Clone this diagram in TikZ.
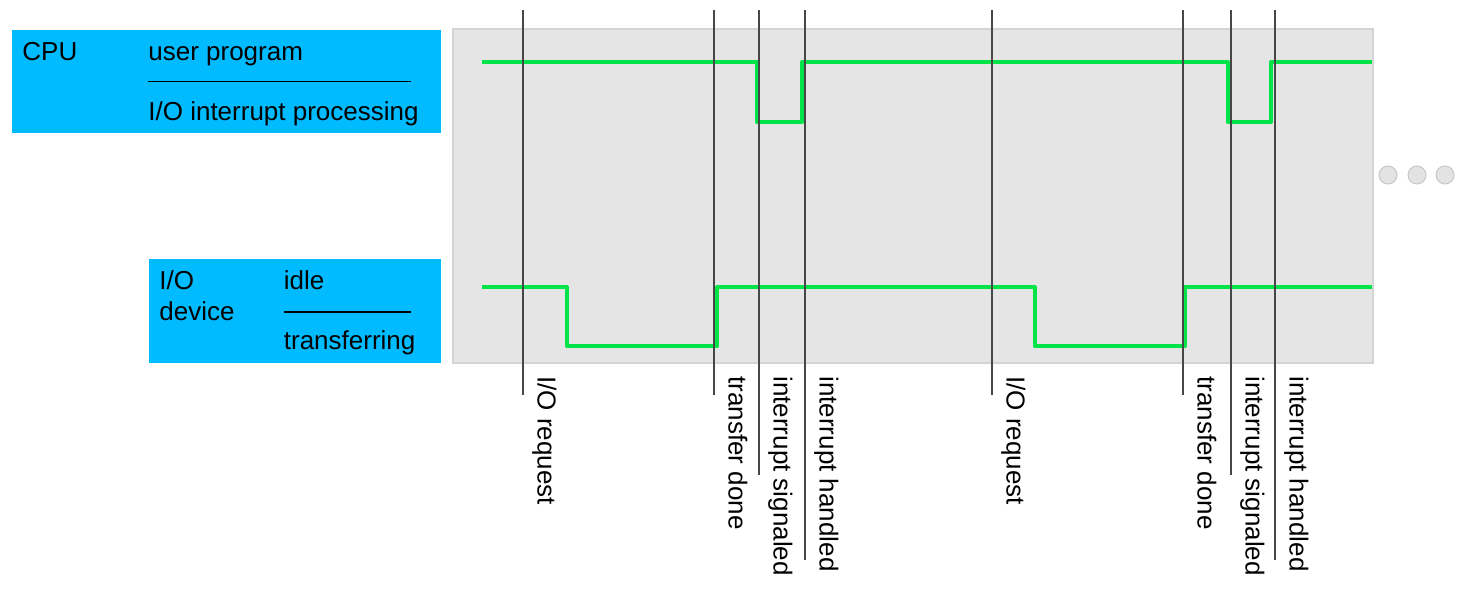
\documentclass[tikz,border=0pt]{standalone}
\usepackage{fontspec}
\setmainfont{Liberation Sans}
\definecolor{stateblue}{RGB}{0,187,255}
\definecolor{siggreen}{RGB}{0,228,72}
\definecolor{panelgray}{RGB}{229,229,229}
\begin{document}
\begin{tikzpicture}[x=0.5pt, y=-0.5pt,
    txt/.style={font=\fontsize{13}{15}\selectfont, inner sep=0, anchor=base west},
    event/.style={txt, rotate=-90},
    signal/.style={siggreen, line width=2pt, line join=round},
    marker/.style={draw=black!72, line width=0.8pt},
    rule/.style={draw=black, line width=0.6pt},
    dot/.style={circle, draw=black!22, fill=black!11, line width=0.5pt, minimum size=9pt, inner sep=0}
]
    \useasboundingbox (0,0) rectangle (1482,594);

    % State boxes
    \fill[stateblue] (12,30) rectangle (441,133);
    \fill[stateblue] (149,259) rectangle (441,363);
    \node[txt] (cpu) at (22,60) {CPU};
    \node[txt] (user) at (148,60) {user program};
    \node[txt] (intproc) at (148,120) {I/O interrupt processing};
    \draw[rule] (148,81.5) -- (411,81.5);
    \node[txt] (io) at (159,289) {I/O};
    \node[txt] (device) at (159,320) {device};
    \node[txt] (idle) at (283.5,289) {idle};
    \node[txt] (transfer) at (283.5,349) {transferring};
    \draw[rule] (284,312) -- (411,312);

    % Timeline panel
    \draw[fill=panelgray, draw=black!17, line width=0.8pt] (453,29) rectangle (1373,363);

    % Signals
    \draw[signal] (482,62) -| (757,122) -| (802,62) -| (1228,122) -| (1271,62) -- (1372,62);
    \draw[signal] (482,287) -| (567,346) -| (717,287) -| (1035,346) -| (1185,287) -- (1372,287);

    % Events
    \foreach \x/\y/\name [count=\i] in {523/395/{I/O request}, 714/395/{transfer done},
        759/475/{interrupt signaled}, 805/560/{interrupt handled}, 992/395/{I/O request},
        1183/395/{transfer done}, 1231/475/{interrupt signaled}, 1275/560/{interrupt handled}} {
        \coordinate (ev\i-top) at (\x,10);
        \coordinate (ev\i-bot) at (\x,\y);
        \draw[marker] (ev\i-top) -- (ev\i-bot);
        \node[event] (ev\i-lbl) at (\x+14.5,376) {\name};
    }

    % Continuation dots
    \node[dot] (dot1) at (1388,175) {};
    \node[dot] (dot2) at (1417,175) {};
    \node[dot] (dot3) at (1445,175) {};
\end{tikzpicture}
\end{document}
